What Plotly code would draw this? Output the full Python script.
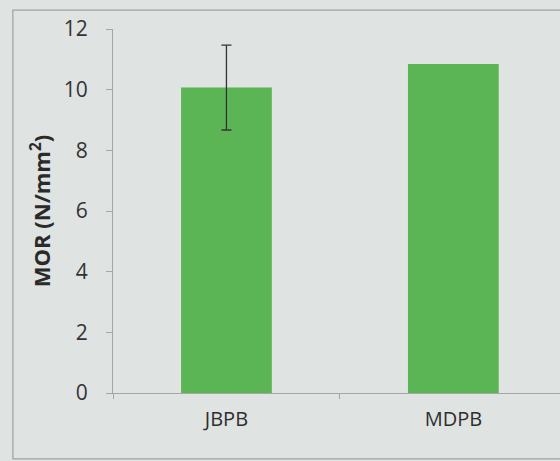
import plotly.graph_objects as go

categories = ["JBPB", "MDPB"]
mor_values = [10.07, 10.85]
mor_error = [1.4, "NaN"]
y_ticks = [0, 2, 4, 6, 8, 10, 12]

bg = "#dfe3e2"
axis_col = "#a3a7a7"

fig = go.Figure()
fig.add_trace(go.Bar(
    x=categories, y=mor_values, width=0.4,
    marker=dict(color="#5cb554", line=dict(width=0)),
    error_y=dict(type="data", array=mor_error, visible=True, color="#333333",
                 thickness=1.3, width=5),
))

fig.update_layout(
    width=560, height=461,
    margin=dict(l=113, r=0, t=29, b=68),
    paper_bgcolor=bg, plot_bgcolor=bg,
    showlegend=False,
    font=dict(family="Open Sans, Lato, sans-serif", color="#333333"),
    xaxis=dict(range=[-0.5, 1.47], showline=True, linecolor=axis_col, linewidth=1.2,
               automargin=False,
               ticks="outside", tickson="boundaries", ticklen=5, tickcolor=axis_col,
               ticklabelstandoff=8,
               tickfont=dict(size=20, color="#2e2e2e"), showgrid=False),
    yaxis=dict(range=[0, 12], tickvals=y_ticks, showline=True, linecolor=axis_col,
               automargin=False,
               linewidth=1.2, ticks="outside", ticklen=6, tickcolor=axis_col,
               ticklabelstandoff=14,
               tickfont=dict(size=21, color="#333333"), showgrid=False, zeroline=False,
               title=dict(text="<b>MOR (N/mm<sup>2</sup>)</b>", font=dict(size=22, color="#2a2a2a"),
                          standoff=6)),
    shapes=[dict(type="rect", xref="paper", yref="paper", x0=-0.224, x1=1.2, y0=-0.181, y1=1.052,
                 line=dict(color="#9ea2a2", width=1.2), fillcolor="rgba(0,0,0,0)", layer="below")],
)

fig.write_html(
    "out.html",
    config={"displayModeBar": False},
    post_script="document.body.style.margin='0';document.body.style.background='#dfe3e2';",
)
